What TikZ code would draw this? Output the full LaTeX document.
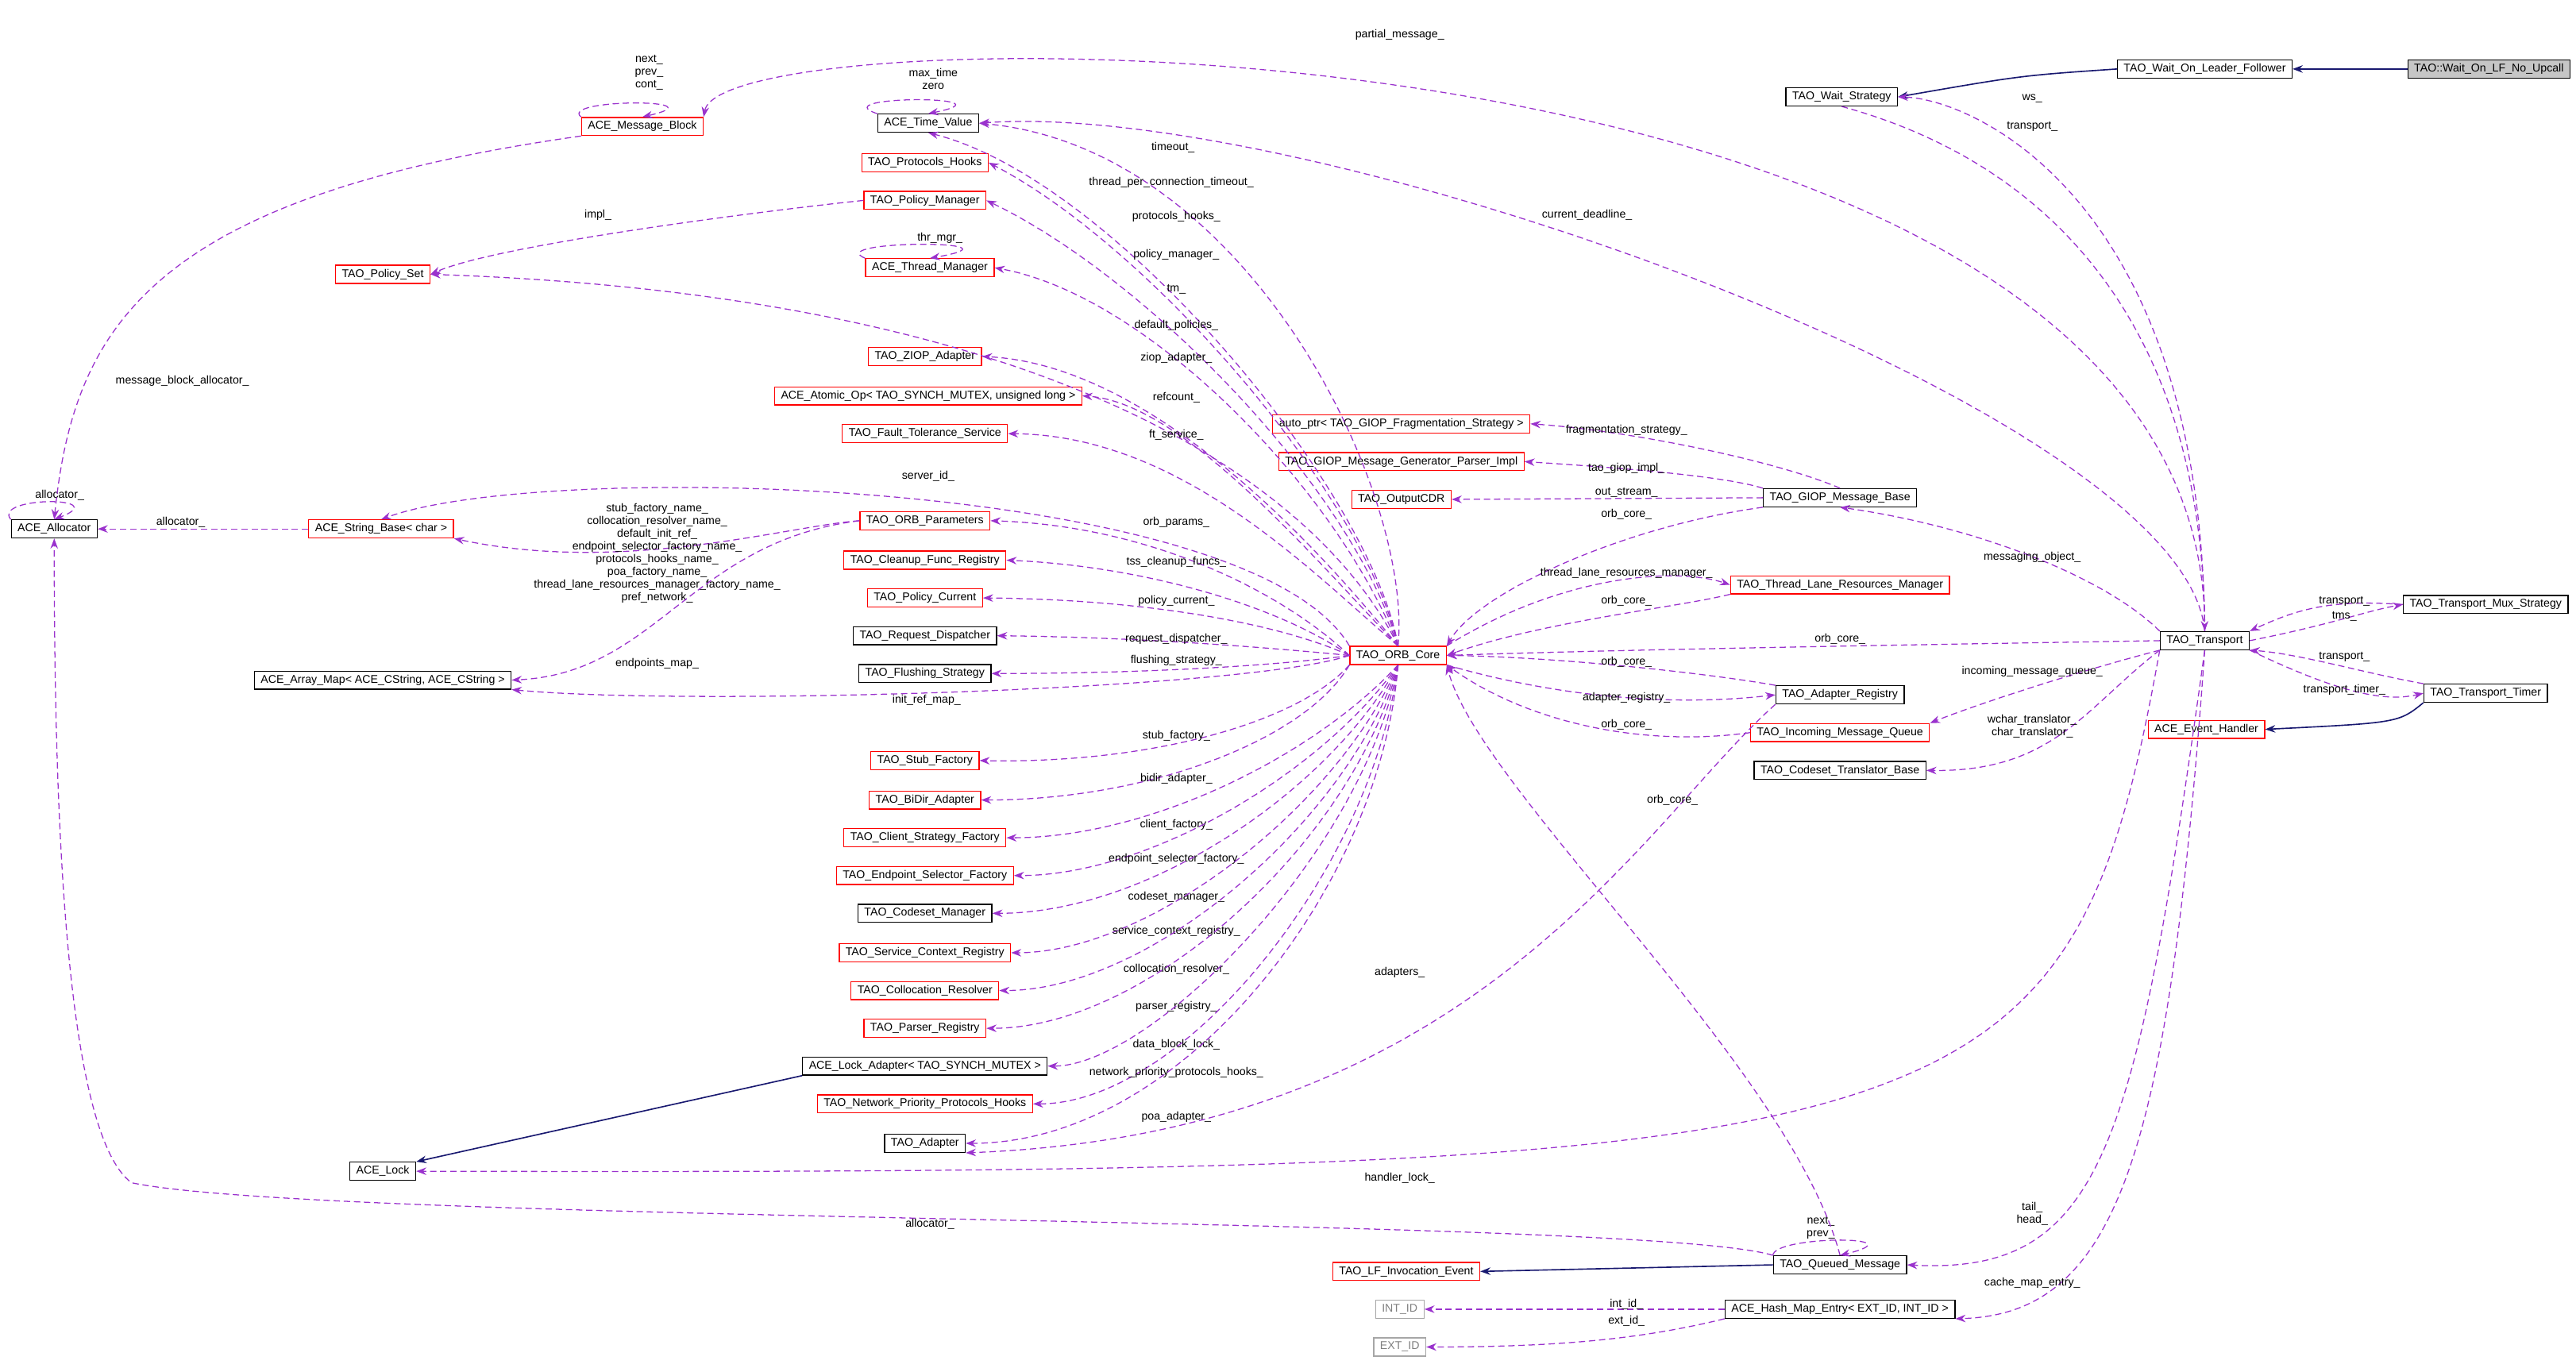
\documentclass[tikz,border=0pt]{standalone}
\usepackage{fontspec}
\setmainfont{Liberation Sans}
\usetikzlibrary{arrows.meta}
\definecolor{usec}{HTML}{9A32CD}
\definecolor{inhc}{HTML}{191970}
\definecolor{redb}{HTML}{FF0000}
\tikzset{
 cls/.style={draw=black,line width=0.35pt,rectangle,minimum height=0.22cm,inner xsep=2.2pt,inner ysep=0pt,font=\fontsize{3.9}{4.4}\selectfont},
 rcls/.style={cls,draw=redb},
 gcls/.style={cls,draw=gray!70,text=gray},
 fcls/.style={cls,fill=gray!45},
 uses/.style={draw=usec,dashed,dash pattern=on 2.2pt off 1.3pt,line width=0.35pt,-{Stealth[length=3.5pt,width=2.6pt]}},
 inh/.style={draw=inhc,line width=0.45pt,-{Stealth[length=3.5pt,width=2.6pt]}},
 lbl/.style={font=\fontsize{3.9}{4.4}\selectfont,inner sep=0.5pt,align=center}
}
\begin{document}
\begin{tikzpicture}[x=0.02cm,y=-0.02cm]
\useasboundingbox (0,0) rectangle (1568,835);
% nodes
\node[fcls] (lfnu) at (1515,42) {TAO::Wait\_On\_LF\_No\_Upcall};
\node[cls] (wolf) at (1342,42) {TAO\_Wait\_On\_Leader\_Follower};
\node[cls] (ws) at (1121,59) {TAO\_Wait\_Strategy};
\node[rcls] (mb) at (391,77) {ACE\_Message\_Block};
\node[cls] (tv) at (565,75) {ACE\_Time\_Value};
\node[rcls] (ph) at (563,99) {TAO\_Protocols\_Hooks};
\node[rcls] (pm) at (563,122) {TAO\_Policy\_Manager};
\node[rcls] (ps) at (233,167) {TAO\_Policy\_Set};
\node[rcls] (tm) at (566,163) {ACE\_Thread\_Manager};
\node[rcls] (ziop) at (563,217) {TAO\_ZIOP\_Adapter};
\node[rcls] (atom) at (565,241) {ACE\_Atomic\_Op< TAO\_SYNCH\_MUTEX, unsigned long >};
\node[rcls] (ft) at (563,264) {TAO\_Fault\_Tolerance\_Service};
\node[rcls] (ap) at (853,258) {auto\_ptr< TAO\_GIOP\_Fragmentation\_Strategy >};
\node[rcls] (gen) at (853,281) {TAO\_GIOP\_Message\_Generator\_Parser\_Impl};
\node[rcls] (cdr) at (853,304) {TAO\_OutputCDR};
\node[cls] (gmb) at (1120,303) {TAO\_GIOP\_Message\_Base};
\node[cls] (alloc) at (33,322) {ACE\_Allocator};
\node[rcls] (sb) at (232,322) {ACE\_String\_Base< char >};
\node[rcls] (op) at (563,317) {TAO\_ORB\_Parameters};
\node[rcls] (cfr) at (563,341) {TAO\_Cleanup\_Func\_Registry};
\node[rcls] (pc) at (563,364) {TAO\_Policy\_Current};
\node[rcls] (tlrm) at (1120,356) {TAO\_Thread\_Lane\_Resources\_Manager};
\node[cls] (rd) at (563,387) {TAO\_Request\_Dispatcher};
\node[cls] (fs) at (563,410) {TAO\_Flushing\_Strategy};
\node[cls] (am) at (233,414) {ACE\_Array\_Map< ACE\_CString, ACE\_CString >};
\node[rcls] (orb) at (851,399) {TAO\_ORB\_Core};
\node[cls] (tr) at (1342,390) {TAO\_Transport};
\node[cls] (mux) at (1513,368) {TAO\_Transport\_Mux\_Strategy};
\node[cls] (ar) at (1120,423) {TAO\_Adapter\_Registry};
\node[cls] (tt) at (1513,422) {TAO\_Transport\_Timer};
\node[rcls] (eh) at (1343,444) {ACE\_Event\_Handler};
\node[rcls] (imq) at (1120,446) {TAO\_Incoming\_Message\_Queue};
\node[cls] (ctb) at (1120,469) {TAO\_Codeset\_Translator\_Base};
\node[rcls] (sf) at (563,463) {TAO\_Stub\_Factory};
\node[rcls] (bidir) at (563,487) {TAO\_BiDir\_Adapter};
\node[rcls] (csf) at (563,510) {TAO\_Client\_Strategy\_Factory};
\node[rcls] (esf) at (563,533) {TAO\_Endpoint\_Selector\_Factory};
\node[cls] (cm) at (563,556) {TAO\_Codeset\_Manager};
\node[rcls] (scr) at (563,580) {TAO\_Service\_Context\_Registry};
\node[rcls] (cr) at (563,603) {TAO\_Collocation\_Resolver};
\node[rcls] (pr) at (563,626) {TAO\_Parser\_Registry};
\node[cls] (la) at (563,649) {ACE\_Lock\_Adapter< TAO\_SYNCH\_MUTEX >};
\node[rcls] (npph) at (563,672) {TAO\_Network\_Priority\_Protocols\_Hooks};
\node[cls] (ad) at (563,696) {TAO\_Adapter};
\node[cls] (lock) at (233,713) {ACE\_Lock};
\node[rcls] (lfie) at (856,774) {TAO\_LF\_Invocation\_Event};
\node[cls] (qm) at (1120,770) {TAO\_Queued\_Message};
\node[gcls] (intid) at (852,797) {INT\_ID};
\node[gcls] (extid) at (852,820) {EXT\_ID};
\node[cls] (hme) at (1120,797) {ACE\_Hash\_Map\_Entry< EXT\_ID, INT\_ID >};
% inheritance
\draw[inh] (lfnu) -- (wolf);
\draw[inh] (wolf.west) .. controls (1230,46) .. (ws.east);
\draw[inh] (tt.south west) .. controls (1460,440) .. (eh.east);
\draw[inh] (la.south west) -- (lock.north east);
\draw[inh] (qm.west) -- (lfie.east);
% self loops
\draw[uses] (mb.north west) .. controls (340,60) and (440,60) .. (mb.north) node[lbl,pos=0.6,above=4pt] {next\_\\prev\_\\cont\_};
\draw[uses] (tv.north west) .. controls (500,58) and (620,58) .. (tv.north) node[lbl,pos=0.6,above=3pt] {max\_time\\zero};
\draw[uses] (tm.north west) .. controls (500,146) and (630,146) .. (tm.north) node[lbl,pos=0.6,above=0pt] {thr\_mgr\_};
\draw[uses] (alloc.north west) .. controls (-5,302) and (70,302) .. (alloc.north) node[lbl,pos=0.6,above=0pt] {allocator\_};
\draw[uses] (qm.north west) .. controls (1080,752) and (1170,752) .. (qm.north) node[lbl,pos=0.4,above=0pt] {next\_\\prev\_};
% top-area edges
\draw[uses] (tr.north) .. controls (1345,0) and (440,5) .. (mb.north east);
\node[lbl] at (852,21) {partial\_message\_};
\draw[uses] (mb.south west) .. controls (90,120) and (45,200) .. (alloc.north);
\node[lbl] at (111,232) {message\_block\_allocator\_};
\draw[uses] (tr.north) .. controls (1340,120) and (1200,60) .. (ws.east);
\node[lbl] at (1237,60) {ws\_};
\draw[uses] (ws.south) .. controls (1250,100) and (1340,200) .. (tr.north);
\node[lbl] at (1237,77) {transport\_};
\draw[uses] (tr.north) .. controls (1330,250) and (800,60) .. (tv.east);
\node[lbl] at (966,131) {current\_deadline\_};
\draw[uses] (orb.north) .. controls (860,300) and (760,90) .. (tv.east);
\node[lbl] at (714,90) {timeout\_};
\draw[uses] (orb.north) .. controls (835,300) and (680,110) .. (tv.south);
\node[lbl] at (713,111) {thread\_per\_connection\_timeout\_};
\draw[uses] (orb.north) .. controls (830,300) and (700,150) .. (ph.east);
\node[lbl] at (716,132) {protocols\_hooks\_};
\draw[uses] (orb.north) .. controls (825,300) and (700,170) .. (pm.east);
\node[lbl] at (716,155) {policy\_manager\_};
\draw[uses] (pm.west) .. controls (450,130) and (300,150) .. (ps.east);
\node[lbl] at (364,131) {impl\_};
\draw[uses] (orb.north) .. controls (815,300) and (700,180) .. (tm.east);
\node[lbl] at (716,176) {tm\_};
\draw[uses] (orb.north) .. controls (805,300) and (650,180) .. (ps.east);
\node[lbl] at (716,198) {default\_policies\_};
\draw[uses] (orb.north) .. controls (800,330) and (700,222) .. (ziop.east);
\node[lbl] at (716,218) {ziop\_adapter\_};
\draw[uses] (orb.north) .. controls (800,340) and (720,245) .. (atom.east);
\node[lbl] at (716,242) {refcount\_};
\draw[uses] (orb.north) .. controls (800,350) and (720,265) .. (ft.east);
\node[lbl] at (716,265) {ft\_service\_};
% GIOP message base
\draw[uses] (gmb.north) .. controls (1080,280) and (990,262) .. (ap.east);
\node[lbl] at (990,262) {fragmentation\_strategy\_};
\draw[uses] (gmb.north west) .. controls (1050,290) and (990,285) .. (gen.east);
\node[lbl] at (990,285) {tao\_giop\_impl\_};
\draw[uses] (gmb.west) -- (cdr.east);
\node[lbl] at (990,300) {out\_stream\_};
\draw[uses] (gmb.south west) .. controls (990,320) and (900,360) .. (orb.north east);
\node[lbl] at (990,313) {orb\_core\_};
\draw[uses] (tr.north west) .. controls (1280,350) and (1200,320) .. (gmb.south);
\node[lbl] at (1237,339) {messaging\_object\_};
% string base etc
\draw[uses] (orb.north west) .. controls (760,290) and (330,280) .. (sb.north);
\node[lbl] at (565,290) {server\_id\_};
\draw[uses] (sb.west) -- (alloc.east);
\node[lbl] at (110,318) {allocator\_};
\draw[uses] (op.west) .. controls (480,320) and (380,350) .. (sb.south east);
\node[lbl] at (400,337) {stub\_factory\_name\_\\collocation\_resolver\_name\_\\default\_init\_ref\_\\endpoint\_selector\_factory\_name\_\\protocols\_hooks\_name\_\\poa\_factory\_name\_\\thread\_lane\_resources\_manager\_factory\_name\_\\pref\_network\_};
\draw[uses] (op.west) .. controls (420,330) and (400,410) .. (am.east);
\node[lbl] at (400,404) {endpoints\_map\_};
\draw[uses] (orb.west) .. controls (780,360) and (700,320) .. (op.east);
\node[lbl] at (716,318) {orb\_params\_};
\draw[uses] (orb.west) .. controls (780,370) and (700,345) .. (cfr.east);
\node[lbl] at (716,342) {tss\_cleanup\_funcs\_};
\draw[uses] (orb.west) .. controls (780,380) and (700,365) .. (pc.east);
\node[lbl] at (716,366) {policy\_current\_};
\draw[uses] (orb.west) .. controls (780,395) and (700,388) .. (rd.east);
\node[lbl] at (716,389) {request\_dispatcher\_};
\draw[uses] (orb.west) .. controls (780,405) and (700,410) .. (fs.east);
\node[lbl] at (716,402) {flushing\_strategy\_};
\draw[uses] (orb.west) .. controls (760,420) and (420,430) .. (am.south east);
\node[lbl] at (564,426) {init\_ref\_map\_};
% thread lane, transport, adapter registry
\draw[uses] (orb.north east) .. controls (950,350) and (1020,345) .. (tlrm.west);
\node[lbl] at (990,349) {thread\_lane\_resources\_manager\_};
\draw[uses] (tlrm.south west) .. controls (1020,370) and (940,378) .. (orb.east);
\node[lbl] at (990,366) {orb\_core\_};
\draw[uses] (tr.west) .. controls (1200,392) and (1000,395) .. (orb.east);
\node[lbl] at (1120,389) {orb\_core\_};
\draw[uses] (ar.north west) .. controls (1040,410) and (950,400) .. (orb.east);
\node[lbl] at (990,403) {orb\_core\_};
\draw[uses] (orb.south east) .. controls (950,425) and (1020,430) .. (ar.west);
\node[lbl] at (990,425) {adapter\_registry\_};
\draw[uses] (imq.west) .. controls (1000,455) and (930,440) .. (orb.south east);
\node[lbl] at (990,441) {orb\_core\_};
\draw[uses] (tr.east) .. controls (1420,380) and (1440,372) .. (mux.west);
\node[lbl] at (1427,375) {tms\_};
\draw[uses] (mux.west) .. controls (1420,365) and (1400,370) .. (tr.north east);
\node[lbl] at (1427,366) {transport\_};
\draw[uses] (tr.south east) .. controls (1420,420) and (1450,428) .. (tt.west);
\node[lbl] at (1427,420) {transport\_timer\_};
\draw[uses] (tt.north west) .. controls (1440,410) and (1400,398) .. (tr.south east);
\node[lbl] at (1427,400) {transport\_};
\draw[uses] (tr.south west) .. controls (1260,410) and (1200,430) .. (imq.north east);
\node[lbl] at (1237,409) {incoming\_message\_queue\_};
\draw[uses] (tr.south west) .. controls (1270,430) and (1250,470) .. (ctb.east);
\node[lbl] at (1237,442) {wchar\_translator\_\\char\_translator\_};
% lower ORB core edges
\draw[uses] (orb.south west) .. controls (790,440) and (700,465) .. (sf.east);
\node[lbl] at (716,448) {stub\_factory\_};
\draw[uses] (orb.south west) .. controls (795,450) and (700,487) .. (bidir.east);
\node[lbl] at (716,474) {bidir\_adapter\_};
\draw[uses] (orb.south) .. controls (800,460) and (700,510) .. (csf.east);
\node[lbl] at (716,502) {client\_factory\_};
\draw[uses] (orb.south) .. controls (805,470) and (700,533) .. (esf.east);
\node[lbl] at (716,523) {endpoint\_selector\_factory\_};
\draw[uses] (orb.south) .. controls (810,480) and (700,556) .. (cm.east);
\node[lbl] at (716,546) {codeset\_manager\_};
\draw[uses] (orb.south) .. controls (815,490) and (700,580) .. (scr.east);
\node[lbl] at (716,567) {service\_context\_registry\_};
\draw[uses] (orb.south) .. controls (820,500) and (700,603) .. (cr.east);
\node[lbl] at (716,590) {collocation\_resolver\_};
\draw[uses] (orb.south) .. controls (825,510) and (700,626) .. (pr.east);
\node[lbl] at (716,613) {parser\_registry\_};
\draw[uses] (orb.south) .. controls (830,520) and (700,649) .. (la.east);
\node[lbl] at (716,636) {data\_block\_lock\_};
\draw[uses] (orb.south) .. controls (835,530) and (720,672) .. (npph.east);
\node[lbl] at (716,653) {network\_priority\_protocols\_hooks\_};
\draw[uses] (orb.south) .. controls (840,540) and (720,696) .. (ad.east);
\node[lbl] at (716,680) {poa\_adapter\_};
\draw[uses] (ar.south west) .. controls (1000,500) and (900,690) .. (ad.south east);
\node[lbl] at (852,592) {adapters\_};
\draw[uses] (qm.north) .. controls (1090,650) and (900,480) .. (orb.south east);
\node[lbl] at (1018,487) {orb\_core\_};
\draw[uses] (tr.south west) .. controls (1260,700) and (1200,715) .. (lock.east);
\node[lbl] at (852,717) {handler\_lock\_};
\draw[uses] (qm.north west) .. controls (1000,740) and (200,745) .. (80,720) .. controls (40,690) and (33,500) .. (alloc.south);
\node[lbl] at (566,745) {allocator\_};
\draw[uses] (tr.south) .. controls (1300,700) and (1280,776) .. (qm.east);
\node[lbl] at (1237,739) {tail\_\\head\_};
\draw[uses] (tr.south) .. controls (1320,700) and (1290,800) .. (hme.south east);
\node[lbl] at (1237,781) {cache\_map\_entry\_};
\draw[uses] (hme.west) -- (intid.east);
\node[lbl] at (990,794) {int\_id\_};
\draw[uses] (hme.south west) .. controls (1000,815) and (950,820) .. (extid.east);
\node[lbl] at (990,804) {ext\_id\_};
\end{tikzpicture}
\end{document}
